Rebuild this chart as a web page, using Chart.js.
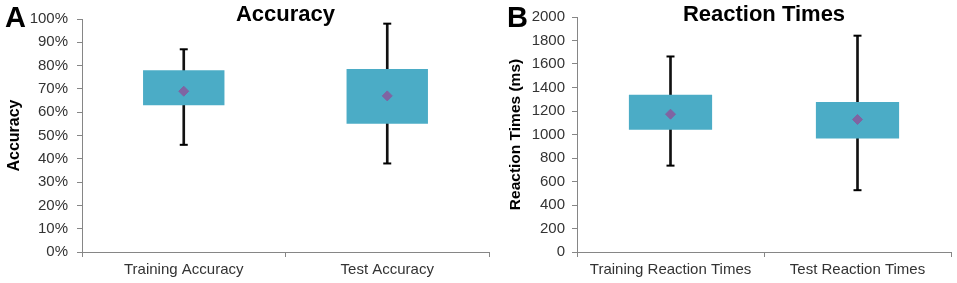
<!DOCTYPE html>
<html>
<head>
<meta charset="utf-8">
<script src="https://cdn.jsdelivr.net/npm/chart.js@4/dist/chart.umd.min.js"></script>
<style>
  html, body { margin: 0; padding: 0; background: #fff; }
  #wrap { position: relative; width: 957px; height: 283px; overflow: hidden; }
  .panel { position: absolute; top: 0; height: 283px; }
  #panelA { left: 0; width: 495px; }
  #panelB { left: 495px; width: 462px; }
</style>
</head>
<body>
<div id="wrap">
  <div class="panel" id="panelA"><canvas id="chartA"></canvas></div>
  <div class="panel" id="panelB"><canvas id="chartB"></canvas></div>
</div>
<script>
// panel A - accuracy (%)
const accLabels = ['Training Accuracy', 'Test Accuracy'];
const accMin = [46, 38];
const accQ1 = [63, 55];
const accQ3 = [78, 78.5];
const accMax = [87, 98];
const accMean = [69, 67];

// panel B - reaction times (ms)
const rtLabels = ['Training Reaction Times', 'Test Reaction Times'];
const rtMin = [735, 526];
const rtQ1 = [1040, 966];
const rtQ3 = [1338, 1276];
const rtMax = [1664, 1841];
const rtMean = [1173, 1128];

const boxColor = '#4BACC6';
const meanColor = '#8064A2';
const axisColor = '#868686';
const textColor = '#333';
const fontFam = '"Liberation Sans", Arial, sans-serif';

Chart.defaults.font.family = fontFam;
Chart.defaults.color = textColor;

// title + panel letter, drawn over the top of the plot area
const headerPlugin = {
  id: 'header',
  afterDraw(chart, args, opts) {
    const { ctx, chartArea } = chart;
    ctx.save();
    ctx.fillStyle = '#000';
    ctx.textBaseline = 'alphabetic';
    ctx.font = 'bold 22px ' + fontFam;
    ctx.textAlign = 'center';
    ctx.fillText(opts.title, (chartArea.left + chartArea.right) / 2, 21);
    ctx.font = 'bold 29px ' + fontFam;
    ctx.textAlign = 'left';
    ctx.fillText(opts.letter, opts.letterX, 27);
    ctx.restore();
  }
};

function makeBoxChart(id, cfg) {
  const pairs = (a, b) => a.map((v, i) => [v, b[i]]);
  return new Chart(document.getElementById(id), {
    type: 'bar',
    data: {
      labels: cfg.labels,
      datasets: [
        {
          type: 'line', label: 'Mean', data: cfg.mean,
          showLine: false, pointStyle: 'rectRot', pointRadius: 5,
          backgroundColor: meanColor, borderColor: meanColor, borderWidth: 1
        },
        {
          type: 'line', label: 'Max', data: cfg.max,
          showLine: false, pointStyle: 'line', pointRadius: 4,
          borderColor: '#000', borderWidth: 2
        },
        {
          type: 'line', label: 'Min', data: cfg.min,
          showLine: false, pointStyle: 'line', pointRadius: 4,
          borderColor: '#000', borderWidth: 2
        },
        {
          label: 'Box', data: pairs(cfg.q1, cfg.q3),
          backgroundColor: boxColor, borderWidth: 0,
          barPercentage: cfg.barPct, categoryPercentage: 1, grouped: false
        },
        {
          label: 'Whisker', data: pairs(cfg.min, cfg.max),
          backgroundColor: '#111', borderWidth: 0,
          barThickness: 2, grouped: false
        }
      ]
    },
    options: {
      responsive: true,
      maintainAspectRatio: false,
      animation: false,
      events: [],
      layout: { padding: { top: cfg.top, right: cfg.right, left: 0, bottom: 0 } },
      plugins: {
        legend: { display: false },
        tooltip: { enabled: false },
        header: { title: cfg.title, letter: cfg.letter, letterX: cfg.letterX }
      },
      scales: {
        x: {
          offset: true,
          afterFit: s => { s.height = 31; },
          grid: {
            offset: true, drawOnChartArea: false, drawTicks: true,
            tickLength: 5, color: axisColor
          },
          border: { color: axisColor, width: 1 },
          ticks: { font: { size: 15 }, color: textColor, padding: 4, maxRotation: 0 }
        },
        y: {
          min: cfg.yMin, max: cfg.yMax,
          afterFit: s => { s.width = 82; },
          grid: { drawOnChartArea: false, drawTicks: true, tickLength: 5, color: axisColor },
          border: { color: axisColor, width: 1 },
          ticks: {
            stepSize: cfg.step, font: { size: 15 }, color: textColor,
            padding: cfg.tickPad, callback: cfg.fmt
          },
          title: {
            display: true, text: cfg.yTitle, color: '#000',
            font: { size: cfg.yTitleSize, weight: 'bold' }, padding: { top: cfg.titlePad, bottom: 0 }
          }
        }
      }
    },
    plugins: [headerPlugin]
  });
}

makeBoxChart('chartA', {
  labels: accLabels, min: accMin, q1: accQ1, q3: accQ3, max: accMax, mean: accMean,
  yMin: 0, yMax: 100, step: 10, fmt: v => v + '%',
  yTitle: 'Accuracy', yTitleSize: 16, title: 'Accuracy', letter: 'A', letterX: 5,
  top: 19, right: 5, barPct: 0.40, tickPad: 9, titlePad: 5
});

makeBoxChart('chartB', {
  labels: rtLabels, min: rtMin, q1: rtQ1, q3: rtQ3, max: rtMax, mean: rtMean,
  yMin: 0, yMax: 2000, step: 200, fmt: v => v,
  yTitle: 'Reaction Times (ms)', yTitleSize: 15.5, title: 'Reaction Times', letter: 'B', letterX: 12,
  top: 17, right: 4, barPct: 0.445, tickPad: 7, titlePad: 11
});
</script>
</body>
</html>
